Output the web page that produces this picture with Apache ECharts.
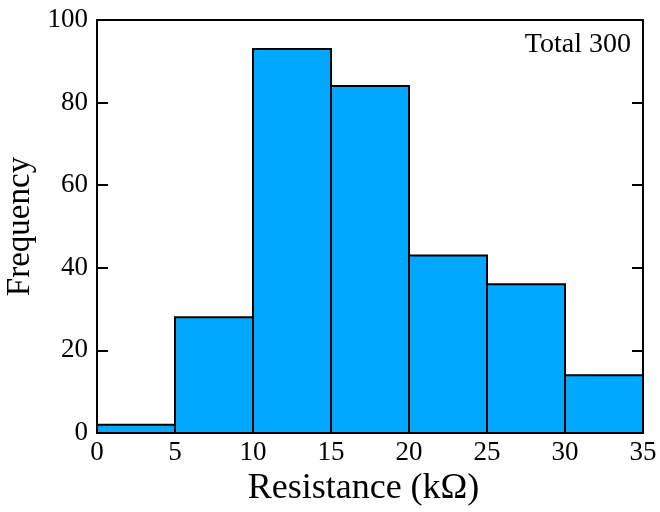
<!DOCTYPE html>
<html><head><meta charset="utf-8">
<script src="https://cdn.jsdelivr.net/npm/echarts@6/dist/echarts.min.js"></script>
<style>html,body{margin:0;padding:0;background:#fff}#c{width:660px;height:512px}</style>
</head><body><div id="c"></div>
<script>
const binStarts = [0, 5, 10, 15, 20, 25, 30];
const binEnds = [5, 10, 15, 20, 25, 30, 35];
const counts = [2, 28, 93, 84, 43, 36, 14];
const xTitle = 'Resistance (kΩ)';
const yTitle = 'Frequency';
const note = 'Total 300';

const data = binStarts.map((s, i) => [s, binEnds[i], counts[i]]);
const font = 'Liberation Serif, Times New Roman, serif';
const line = { show: true, onZero: false, lineStyle: { color: '#000', width: 2 } };
const tick = { show: true, inside: true, length: 11, lineStyle: { color: '#000', width: 2 } };
const chart = echarts.init(document.getElementById('c'));
chart.setOption({
  animation: false,
  title: { text: note, right: 24, top: 26, textStyle: { fontFamily: font, fontSize: 28, fontWeight: 'normal', color: '#000' } },
  grid: { left: 97, right: 17, top: 20, bottom: 79, outerBoundsMode: 'none', containLabel: false },
  xAxis: [{
    type: 'value', min: 0, max: 35, interval: 5, position: 'bottom',
    name: xTitle, nameLocation: 'middle', nameGap: 33,
    nameTextStyle: { fontFamily: font, fontSize: 36, color: '#000', padding: [0, 13, 0, 0] },
    axisLine: line,
    axisTick: { show: false },
    axisLabel: { fontFamily: font, fontSize: 27, color: '#000', margin: 6 },
    splitLine: { show: false }
  }, {
    type: 'value', min: 0, max: 35, interval: 5, position: 'top',
    axisLine: line,
    axisTick: { show: false }, axisLabel: { show: false }, splitLine: { show: false }
  }],
  yAxis: [{
    type: 'value', min: 0, max: 100, interval: 20, position: 'left',
    name: yTitle, nameLocation: 'middle', nameGap: 53,
    nameTextStyle: { fontFamily: font, fontSize: 33, color: '#000' },
    axisLine: line,
    axisTick: tick,
    axisLabel: { fontFamily: font, fontSize: 27, color: '#000', margin: 9 },
    splitLine: { show: false }
  }, {
    type: 'value', min: 0, max: 100, interval: 20, position: 'right',
    axisLine: line,
    axisTick: tick, axisLabel: { show: false }, splitLine: { show: false }
  }],
  series: [{
    type: 'custom',
    xAxisIndex: 0, yAxisIndex: 0,
    encode: { x: [0, 1], y: 2 },
    data: data,
    renderItem: function (params, api) {
      const p0 = api.coord([api.value(0), 0]);
      const p1 = api.coord([api.value(1), api.value(2)]);
      return {
        type: 'rect',
        shape: { x: p0[0], y: p1[1], width: p1[0] - p0[0], height: p0[1] - p1[1] },
        style: { fill: '#00A8FF', stroke: '#000', lineWidth: 2 }
      };
    }
  }]
});
</script></body></html>
